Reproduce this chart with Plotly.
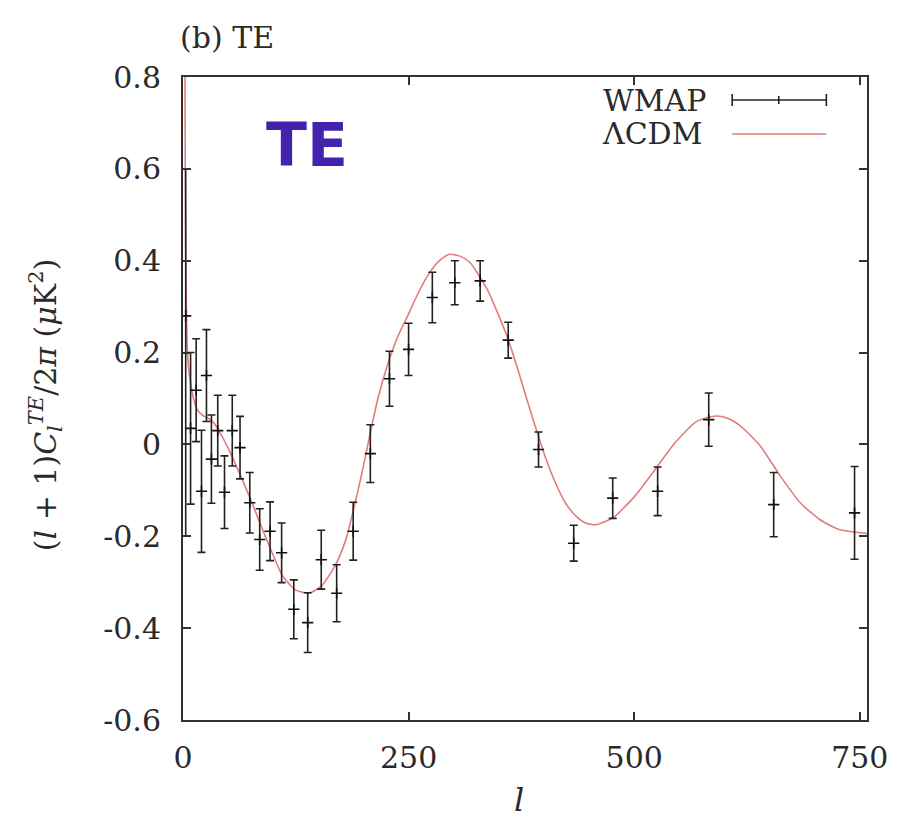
import plotly.graph_objects as go

# ---- WMAP TE binned data ----
wmap_l = [3, 8.4, 14.6, 20.5, 26, 31.5, 38.5, 46, 54.6, 63.2, 74, 85, 96.5, 109.3,
          122.8, 138.2, 153.2, 170.3, 188.6, 207.6, 228.8, 250, 276.3, 301.2, 329.3,
          360.4, 394, 433, 476.2, 526, 582.6, 654.6, 744.2]
wmap_te = [0.28, 0.035, 0.118, -0.102, 0.150, -0.032, 0.030, -0.104, 0.030, -0.007,
           -0.127, -0.207, -0.189, -0.236, -0.359, -0.388, -0.251, -0.324, -0.189,
           -0.020, 0.143, 0.207, 0.320, 0.352, 0.356, 0.227, -0.011, -0.215, -0.117,
           -0.102, 0.054, -0.131, -0.149]
wmap_err_plus = [0.32, 0.165, 0.112, 0.133, 0.10, 0.096, 0.077, 0.079, 0.077, 0.068,
                 0.066, 0.067, 0.064, 0.065, 0.064, 0.065, 0.064, 0.062, 0.063, 0.063,
                 0.060, 0.057, 0.055, 0.048, 0.044, 0.039, 0.038, 0.039, 0.044, 0.053,
                 0.058, 0.070, 0.101]
wmap_err_minus = [0.48, 0.165, 0.112, 0.133, 0.10, 0.096, 0.077, 0.079, 0.077, 0.068,
                  0.066, 0.067, 0.064, 0.065, 0.064, 0.065, 0.064, 0.062, 0.063, 0.063,
                  0.060, 0.057, 0.055, 0.048, 0.044, 0.039, 0.038, 0.039, 0.044, 0.053,
                  0.058, 0.070, 0.101]

# ---- LambdaCDM model curve ----
lcdm_l = [2, 2.5, 3, 4, 5, 6.5, 9, 12, 16, 22, 28, 34, 42, 50, 57, 64, 75, 86, 98,
          110, 124, 139, 153, 168, 180, 188, 198, 207, 216, 227, 238, 249, 260, 271,
          283, 295, 307, 318, 337, 359, 370, 380, 391, 402, 413, 424, 435, 446, 457,
          468, 479, 501, 523, 545, 567, 580, 592, 605, 618, 640, 662, 684, 706, 728,
          753, 758]
lcdm_te = [0.95, 0.6, 0.42, 0.27, 0.2, 0.16, 0.127, 0.097, 0.075, 0.063, 0.057, 0.047,
           0.022, -0.008, -0.038, -0.069, -0.12, -0.175, -0.232, -0.285, -0.316, -0.324,
           -0.309, -0.266, -0.21, -0.15, -0.065, 0.02, 0.1, 0.175, 0.235, 0.28, 0.327,
           0.367, 0.398, 0.414, 0.41, 0.396, 0.338, 0.236, 0.17, 0.105, 0.035, -0.03,
           -0.085, -0.128, -0.155, -0.171, -0.175, -0.168, -0.156, -0.112, -0.055,
           0.003, 0.047, 0.058, 0.062, 0.056, 0.04, -0.004, -0.069, -0.127, -0.164,
           -0.186, -0.193, -0.194]

x_tickvals = [0, 250, 500, 750]
x_ticktext = ["0", "250", "500", "750"]
y_tickvals = [-0.6, -0.4, -0.2, 0, 0.2, 0.4, 0.6, 0.8]
y_ticktext = ["-0.6", "-0.4", "-0.2", "0", "0.2", "0.4", "0.6", "0.8"]

SERIF = "DejaVu Serif"
FS = 30
AX = "#333333"
TXT = "#2a2a2a"
CURVE = "rgb(226,125,125)"

fig = go.Figure()
fig.add_trace(go.Scatter(
    x=lcdm_l, y=lcdm_te, mode="lines",
    line=dict(color=CURVE, width=1.6, shape="spline", smoothing=0.6),
    showlegend=False, hoverinfo="skip"))
fig.add_trace(go.Scatter(
    x=wmap_l, y=wmap_te, mode="markers",
    marker=dict(symbol="cross-thin", size=8, line=dict(color="#111", width=1.6)),
    error_y=dict(type="data", symmetric=False, array=wmap_err_plus,
                 arrayminus=wmap_err_minus, color="#222", thickness=1.6, width=4),
    showlegend=False))

axis_common = dict(showline=True, linecolor=AX, linewidth=2, mirror="allticks",
                   ticks="inside", ticklen=8, tickwidth=1.5, tickcolor=AX,
                   showgrid=False, zeroline=False,
                   tickfont=dict(family=SERIF, size=FS, color=TXT))

fig.update_xaxes(range=[0, 758], tickvals=x_tickvals, ticktext=x_ticktext,
                 ticklabelstandoff=10, **axis_common)
fig.update_yaxes(range=[-0.6, 0.8], tickvals=y_tickvals, ticktext=y_ticktext,
                 ticklabelstandoff=14, **axis_common)

# legend (drawn manually: text on the left, sample on the right)
TOP, BOT = 77, 720
px_w, px_h = 690.0, float(BOT - TOP)
def xp(px):
    return (px - 183) / px_w
def yp(py):
    return (BOT - py) / px_h

shapes = []
shapes.append(dict(type="line", xref="paper", yref="paper", x0=xp(737), x1=xp(832),
                   y0=yp(100), y1=yp(100), line=dict(color="#222", width=1.6)))
for cx in (737, 832):
    shapes.append(dict(type="line", xref="paper", yref="paper", x0=xp(cx), x1=xp(cx),
                       y0=yp(94), y1=yp(106), line=dict(color="#222", width=1.6)))
shapes.append(dict(type="line", xref="paper", yref="paper", x0=xp(784), x1=xp(784),
                   y0=yp(96), y1=yp(104), line=dict(color="#222", width=1.6)))
shapes.append(dict(type="line", xref="paper", yref="paper", x0=xp(737), x1=xp(832),
                   y0=yp(134), y1=yp(134), line=dict(color=CURVE, width=1.6)))

annotations = [
    dict(text="WMAP", x=xp(713), y=yp(100), xref="paper", yref="paper",
         xanchor="right", yanchor="middle", showarrow=False,
         font=dict(family=SERIF, size=FS, color=TXT)),
    dict(text="ΛCDM", x=xp(709), y=yp(133), xref="paper", yref="paper",
         xanchor="right", yanchor="middle", showarrow=False,
         font=dict(family=SERIF, size=FS, color=TXT)),
    dict(text="(b) TE", x=xp(178), y=yp(37), xref="paper", yref="paper",
         xanchor="left", yanchor="middle", showarrow=False,
         font=dict(family=SERIF, size=FS, color=TXT)),
    dict(text="TE", x=xp(308), y=yp(145), xref="paper", yref="paper",
         xanchor="center", yanchor="middle", showarrow=False,
         font=dict(family="DejaVu Sans", size=60, color="#4123ad", weight="bold")),
    dict(text="(<i>l</i> + 1)<i>C</i><sub><i>l</i></sub><sup><i>TE</i></sup>/2<i>π</i> (<i>μ</i>K<sup>2</sup>)",
         x=xp(45), y=yp(405), xref="paper", yref="paper", textangle=-90,
         xanchor="center", yanchor="middle", showarrow=False,
         font=dict(family=SERIF, size=FS, color=TXT)),
    dict(text="<i>l</i>", x=xp(522), y=yp(800), xref="paper", yref="paper",
         xanchor="center", yanchor="middle", showarrow=False,
         font=dict(family=SERIF, size=32, color=TXT)),
]

fig.update_layout(width=900, height=820, margin=dict(l=183, r=27, t=TOP, b=820 - BOT),
                  paper_bgcolor="white", plot_bgcolor="white",
                  shapes=shapes, annotations=annotations, showlegend=False)

fig.write_html("out.html")
